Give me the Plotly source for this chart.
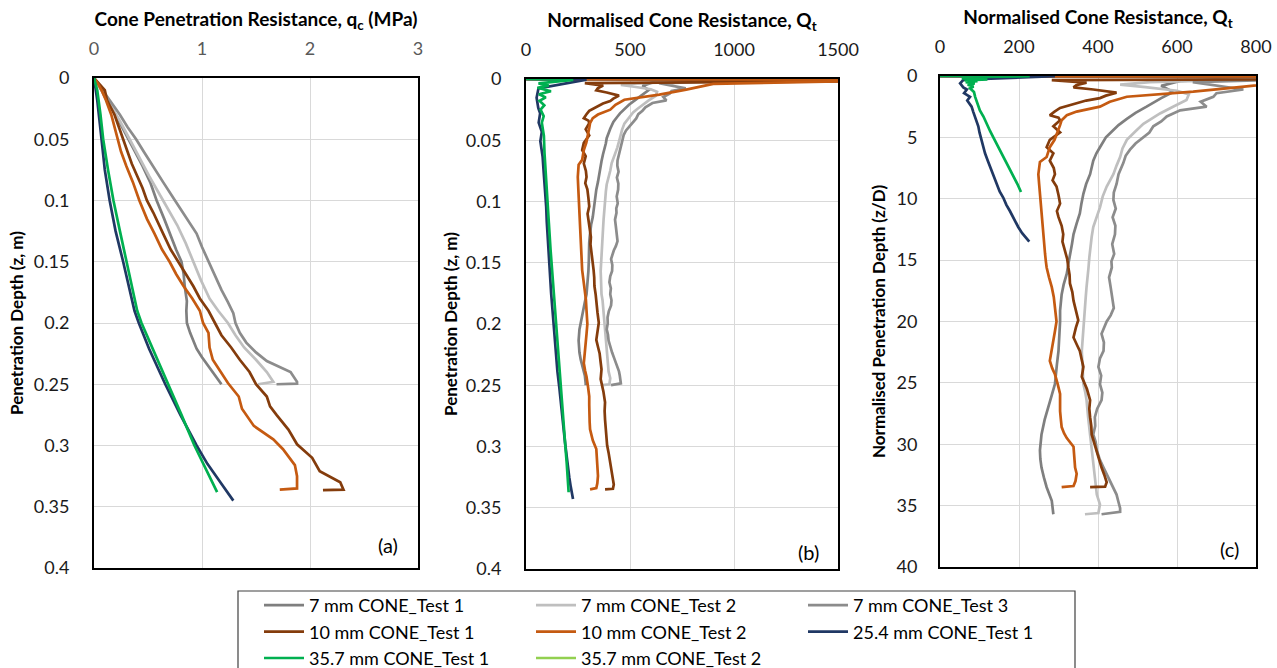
import plotly.graph_objects as go

# ---------------- data ----------------
NAMES = ["7 mm CONE_Test 1", "7 mm CONE_Test 2", "7 mm CONE_Test 3",
         "10 mm CONE_Test 1", "10 mm CONE_Test 2", "25.4 mm CONE_Test 1",
         "35.7 mm CONE_Test 1", "35.7 mm CONE_Test 2"]
COLORS = ["#7f7f7f", "#bfbfbf", "#8c8c8c", "#843c0c", "#c55a11", "#203864", "#00b050", "#92d050"]
DIAMETERS_M = [0.007, 0.007, 0.007, 0.010, 0.010, 0.0254, 0.0357, 0.0357]
LEGEND_OF = ["legend", "legend2", "legend3", "legend", "legend2", "legend3", "legend", "legend2"]

# Panel (a): depth z (m) and cone resistance qc (MPa)
qc_z_7_t1 = [0, 0.01, 0.018, 0.03, 0.04, 0.05, 0.06, 0.072, 0.085, 0.1, 0.115, 0.127, 0.14, 0.15, 0.16,
             0.17, 0.182, 0.19, 0.2, 0.208, 0.215, 0.221, 0.228, 0.235, 0.24, 0.246, 0.25]
qc_7_t1 = [0, 0.07, 0.115, 0.2, 0.26, 0.32, 0.38, 0.45, 0.52, 0.58, 0.65, 0.70, 0.76, 0.81, 0.83,
           0.84, 0.86, 0.855, 0.86, 0.89, 0.92, 0.95, 1.0, 1.06, 1.1, 1.15, 1.18]
qc_z_7_t2 = [0, 0.01, 0.02, 0.035, 0.05, 0.065, 0.08, 0.1, 0.12, 0.135, 0.15, 0.165, 0.18, 0.19, 0.2,
             0.21, 0.22, 0.23, 0.24, 0.248, 0.25]
qc_7_t2 = [0, 0.07, 0.14, 0.24, 0.33, 0.42, 0.51, 0.64, 0.77, 0.85, 0.92, 0.99, 1.07, 1.15, 1.24,
           1.31, 1.39, 1.50, 1.60, 1.66, 1.52]
qc_z_7_t3 = [0, 0.005, 0.01, 0.018, 0.03, 0.04, 0.05, 0.06, 0.072, 0.085, 0.1, 0.113, 0.127, 0.138,
             0.15, 0.162, 0.173, 0.183, 0.192, 0.2, 0.208, 0.216, 0.224, 0.231, 0.236, 0.24, 0.248,
             0.2495, 0.25]
qc_7_t3 = [0, 0.04, 0.08, 0.145, 0.24, 0.31, 0.39, 0.46, 0.55, 0.64, 0.75, 0.85, 0.95, 1.0,
           1.06, 1.12, 1.18, 1.24, 1.29, 1.31, 1.35, 1.41, 1.5, 1.60, 1.72, 1.82, 1.88, 1.88, 1.69]
qc_z_10_t1 = [0, 0.005, 0.01, 0.018, 0.03, 0.04, 0.05, 0.06, 0.07, 0.08, 0.09, 0.1, 0.11, 0.127, 0.14,
              0.15, 0.16, 0.17, 0.18, 0.19, 0.2, 0.21, 0.22, 0.23, 0.24, 0.25, 0.26, 0.268, 0.275,
              0.287, 0.299, 0.31, 0.321, 0.33, 0.336, 0.3365]
qc_10_t1 = [0, 0.05, 0.1, 0.12, 0.19, 0.23, 0.27, 0.31, 0.35, 0.40, 0.45, 0.49, 0.55, 0.64, 0.71,
            0.78, 0.85, 0.92, 0.98, 1.06, 1.12, 1.18, 1.27, 1.35, 1.44, 1.50, 1.60, 1.63, 1.69,
            1.80, 1.88, 2.02, 2.09, 2.28, 2.31, 2.12]
qc_z_10_t2 = [0, 0.005, 0.01, 0.018, 0.03, 0.04, 0.05, 0.06, 0.072, 0.085, 0.1, 0.115, 0.127, 0.14,
              0.15, 0.16, 0.17, 0.18, 0.19, 0.2, 0.208, 0.22, 0.23, 0.24, 0.249, 0.26, 0.27, 0.284,
              0.295, 0.303, 0.316, 0.325, 0.335, 0.336]
qc_10_t2 = [0, 0.04, 0.07, 0.11, 0.16, 0.19, 0.22, 0.25, 0.30, 0.36, 0.42, 0.49, 0.56, 0.63,
            0.70, 0.76, 0.83, 0.91, 0.98, 1.01, 1.06, 1.07, 1.10, 1.17, 1.24, 1.34, 1.37, 1.48,
            1.66, 1.75, 1.86, 1.88, 1.88, 1.72]
qc_z_25_t1 = [0, 0.01, 0.018, 0.05, 0.075, 0.1, 0.125, 0.15, 0.17, 0.181, 0.19, 0.2, 0.21, 0.221,
              0.25, 0.275, 0.3, 0.315, 0.33, 0.345]
qc_25_t1 = [0, 0.02, 0.03, 0.07, 0.1, 0.145, 0.2, 0.27, 0.32, 0.35, 0.375, 0.415, 0.46, 0.51,
            0.66, 0.80, 0.95, 1.05, 1.17, 1.29]
qc_z_35_t1 = [0, 0.01, 0.03, 0.05, 0.075, 0.1, 0.125, 0.15, 0.175, 0.19, 0.2, 0.21, 0.225, 0.25,
              0.275, 0.3, 0.32, 0.338]
qc_35_t1 = [0, 0.03, 0.06, 0.085, 0.13, 0.18, 0.24, 0.30, 0.36, 0.40, 0.44, 0.49, 0.56, 0.69,
            0.81, 0.93, 1.04, 1.14]
qc_z_35_t2 = [0]
qc_35_t2 = [0]

# Panels (b) and (c): normalised depth z/D and normalised cone resistance Qt
qt_zd_7_t1 = [0, 0.1, 0.4, 0.8, 1.3, 1.8, 2.5, 3.0, 3.5, 4.0, 4.4, 5.0, 5.8, 6.3, 6.9, 7.5, 8.0,
              8.8, 9.6, 10.4, 11.2, 12.0, 12.9, 13.7, 14.5, 15.3, 16.1, 17.0, 17.8, 18.5, 19.1,
              20.0, 21.2, 22.4, 23.5, 25.1, 26.0, 27.0, 28.0, 29.2, 30.5, 31.2, 31.9, 32.7, 33.5,
              34.6, 35.5, 35.7]
qt_7_t1 = [0, 900, 608, 560, 590, 560, 523, 495, 473, 452, 439, 420, 405, 396, 388, 384, 380,
           370, 363, 358, 354, 346, 338, 334, 329, 325, 321, 313, 308, 306, 304,
           304, 302, 300, 296, 291, 283, 274, 265, 257, 253, 254, 257, 263, 270,
           283, 287, 287]
qt_zd_7_t2 = [0, 0.1, 0.5, 0.7, 0.9, 1.2, 1.5, 1.96, 2.5, 3.05, 3.5, 3.9, 4.5, 5.2, 5.9, 6.6, 7.3,
              8.0, 9.0, 9.8, 10.7, 11.5, 12.3, 13.1, 14.0, 14.8, 15.6, 16.4, 17.2, 18.0, 18.9,
              20.0, 21.2, 22.4, 23.7, 25.1, 25.8, 26.4, 27.8, 29.2, 30.5, 31.9, 33.0, 34.1, 34.9,
              35.6, 35.7]
qt_7_t2 = [0, 1000, 532, 456, 520, 600, 630, 624, 590, 557, 535, 515, 495, 473, 462, 456, 447,
           439, 422, 412, 405, 396, 388, 384, 380, 378, 376, 373, 371, 369, 367,
           363, 361, 359, 361, 363, 368, 371, 375, 380, 384, 388, 392, 397, 405,
           401, 367]
qt_zd_7_t3 = [0, 0.1, 0.5, 0.8, 1.1, 1.4, 1.7, 2.1, 2.5, 2.8, 3.3, 3.7, 4.1, 4.6, 5.0, 5.5, 6.0,
              6.5, 7.1, 8.0, 8.8, 9.5, 10.1, 10.8, 11.5, 12.2, 12.9, 13.7, 14.5, 15.1, 15.6, 16.4,
              17.2, 18.0, 18.9, 19.5, 20.0, 21.0, 21.7, 22.4, 23.0, 23.7, 24.4, 25.1, 25.8, 26.4,
              27.1, 27.8, 28.5, 29.2, 29.8, 30.5, 31.2, 31.9, 32.7, 33.5, 34.1, 34.6, 35.2, 35.5,
              35.7]
qt_7_t3 = [0, 1100, 640, 700, 768, 700, 692, 660, 675, 608, 574, 560, 540, 530, 515, 495, 481,
           470, 464, 452, 447, 440, 439, 445, 437, 444, 443, 436, 441, 434, 435, 428,
           432, 436, 440, 432, 422, 409, 415, 414, 405, 401, 408, 405, 411, 409,
           398, 392, 393, 388, 394, 397, 404, 414, 426, 439, 447, 451, 456, 456,
           409]
qt_zd_10_t1 = [0, 0.1, 0.33, 0.54, 0.75, 0.93, 1.1, 1.36, 1.6, 1.8, 2.0, 2.2, 2.6, 2.9, 3.2, 3.4,
               3.6, 4.1, 4.6, 5.2, 5.8, 6.3, 6.9, 7.5, 8.0, 8.5, 9.0, 9.7, 10.4, 11.0, 11.5, 12.2,
               12.9, 13.5, 14.2, 14.9, 15.6, 16.2, 16.9, 17.6, 18.3, 19.1, 19.9, 20.5, 21.3, 22.0,
               22.4, 23.0, 23.7, 24.5, 25.5, 26.4, 27.1, 27.8, 28.5, 29.2, 29.9, 30.5, 31.2, 31.9,
               32.5, 33.1, 33.45, 33.5]
qt_10_t1 = [0, 2500, 283, 371, 345, 338, 388, 447, 420, 405, 370, 346, 304, 290, 278, 300,
            304, 287, 304, 278, 270, 287, 278, 288, 291, 285, 295, 300, 304, 296, 300, 308,
            312, 310, 316, 322, 325, 328, 329, 335, 338, 344, 350, 344, 338, 348,
            354, 358, 363, 359, 372, 380, 378, 380, 383, 384, 390, 397, 403, 409,
            416, 422, 418, 380]
qt_zd_10_t2 = [0, 0.1, 0.2, 0.4, 0.87, 1.28, 1.69, 2.1, 2.5, 2.9, 3.2, 3.6, 4.0, 4.7, 5.2, 5.8,
               6.6, 7.0, 8.0, 8.8, 9.6, 10.4, 11.2, 12.0, 12.9, 13.7, 14.5, 15.1, 15.6, 16.4, 17.2,
               18.0, 18.9, 20.0, 20.8, 21.6, 22.4, 23.2, 23.8, 24.3, 25.1, 25.9, 26.6, 27.3, 28.0,
               28.6, 29.1, 29.5, 30.2, 31.0, 31.9, 32.4, 33.0, 33.4, 33.5]
qt_10_t2 = [0, 3000, 1500, 900, 770, 641, 473, 430, 405, 346, 321, 308, 304, 295, 290, 278,
            270, 253, 249, 251, 253, 254, 257, 259, 262, 264, 266, 268, 270, 276, 283,
            288, 291, 295, 291, 287, 282, 278, 284, 291, 298, 304, 304, 304, 306,
            308, 314, 321, 338, 340, 342, 346, 343, 338, 308]
qt_zd_25_t1 = [0, 0.02, 0.3, 0.6, 0.93, 1.1, 1.4, 1.7, 2.0, 2.5, 2.9, 3.3, 3.7, 4.1, 4.6, 5.2,
               5.7, 6.3, 6.9, 7.4, 8.1, 8.8, 9.4, 9.9, 10.5, 11.0, 11.7, 12.3, 12.8, 13.1, 13.5]
qt_25_t1 = [0, 291, 60, 51, 59, 68, 61, 76, 69, 80, 84, 89, 92, 97, 100, 105,
            109, 114, 121, 127, 135, 143, 151, 160, 168, 177, 188, 198, 208, 215, 226]
qt_zd_35_t1 = [0, 0.02, 0.1, 0.15, 0.2, 0.28, 0.35, 0.42, 0.5, 0.6, 0.7, 0.85, 1.0, 1.3, 1.7,
               2.2, 2.8, 3.3, 3.9, 4.5, 5.0, 5.5, 6.0, 6.6, 7.1, 7.7, 8.2, 8.8, 9.45]
qt_35_t1 = [0, 227, 60, 110, 55, 120, 62, 95, 65, 88, 70, 85, 76, 86, 89,
            95, 101, 110, 118, 127, 135, 143, 152, 160, 169, 178, 186, 196, 205]
qt_zd_35_t2 = [0]
qt_35_t2 = [0]

QC_Z = [qc_z_7_t1, qc_z_7_t2, qc_z_7_t3, qc_z_10_t1, qc_z_10_t2, qc_z_25_t1, qc_z_35_t1, qc_z_35_t2]
QC = [qc_7_t1, qc_7_t2, qc_7_t3, qc_10_t1, qc_10_t2, qc_25_t1, qc_35_t1, qc_35_t2]
QT_ZD = [qt_zd_7_t1, qt_zd_7_t2, qt_zd_7_t3, qt_zd_10_t1, qt_zd_10_t2, qt_zd_25_t1, qt_zd_35_t1, qt_zd_35_t2]
QT = [qt_7_t1, qt_7_t2, qt_7_t3, qt_10_t1, qt_10_t2, qt_25_t1, qt_35_t1, qt_35_t2]

DEPTH_TICKS = [0, 0.05, 0.1, 0.15, 0.2, 0.25, 0.3, 0.35, 0.4]
DEPTH_TICKTEXT = ["0", "0.05", "0.1", "0.15", "0.2", "0.25", "0.3", "0.35", "0.4"]
ZD_TICKS = [0, 5, 10, 15, 20, 25, 30, 35, 40]
QC_TICKS = [0, 1, 2, 3]
QT_B_TICKS = [0, 500, 1000, 1500]
QT_C_TICKS = [0, 200, 400, 600, 800]

# ---------------- figure ----------------
W, H = 1277, 668
FONT = "Lato"
fig = go.Figure()

for i, name in enumerate(NAMES):
    line = dict(color=COLORS[i], width=2.7)
    D = DIAMETERS_M[i]
    fig.add_trace(go.Scatter(x=QC[i], y=QC_Z[i], mode="lines", name=name, line=line,
                             legendgroup=name, legend=LEGEND_OF[i], showlegend=True,
                             xaxis="x", yaxis="y"))
    fig.add_trace(go.Scatter(x=QT[i], y=[v * D for v in QT_ZD[i]], mode="lines", name=name,
                             line=line, legendgroup=name, showlegend=False,
                             xaxis="x2", yaxis="y2"))
    fig.add_trace(go.Scatter(x=QT[i], y=QT_ZD[i], mode="lines", name=name, line=line,
                             legendgroup=name, showlegend=False, xaxis="x3", yaxis="y3"))


def px_x(p):
    return p / W


def px_y(p):
    return 1 - p / H


common_axis = dict(showline=True, mirror=True, linecolor="black", linewidth=2,
                   showgrid=True, gridcolor="#d9d9d9", gridwidth=1, zeroline=False,
                   ticks="", fixedrange=True)
xtitle_font = dict(family=FONT, size=19, color="black", weight="bold")
ytitle_font = dict(family=FONT, size=17, color="black", weight="bold")
tick_font = dict(family=FONT, size=18, color="#1a1a1a")
legend_common = dict(yanchor="top", xanchor="left", orientation="v",
                     font=dict(family=FONT, size=18, color="black"), bgcolor="rgba(0,0,0,0)",
                     itemwidth=40, tracegroupgap=0)
panel_font = dict(family=FONT, size=20, color="black")

fig.update_layout(
    width=W, height=H, autosize=False,
    margin=dict(l=0, r=0, t=0, b=0, autoexpand=False),
    paper_bgcolor="white", plot_bgcolor="white",
    font=dict(family=FONT, size=18, color="black"),
    xaxis=dict(domain=[px_x(94), px_x(418)], range=[0, 3], side="top", anchor="y",
               tickvals=QC_TICKS, tickfont=dict(family=FONT, size=18, color="#595959"),
               ticklabelstandoff=14,
               title=dict(text="Cone Penetration Resistance, q<sub>c</sub> (MPa)", font=xtitle_font,
                          standoff=5),
               **common_axis),
    yaxis=dict(domain=[px_y(568), px_y(78)], range=[0.4, 0], anchor="x",
               tickvals=DEPTH_TICKS, ticktext=DEPTH_TICKTEXT, tickfont=tick_font,
               ticklabelstandoff=19,
               title=dict(text="Penetration Depth (z, m)", font=ytitle_font, standoff=6),
               **common_axis),
    xaxis2=dict(domain=[px_x(526), px_x(838)], range=[0, 1500], side="top", anchor="y2",
                tickvals=QT_B_TICKS, tickfont=tick_font, ticklabelstandoff=14,
                title=dict(text="Normalised Cone Resistance, Q<sub>t</sub>", font=xtitle_font,
                           standoff=5),
                **common_axis),
    yaxis2=dict(domain=[px_y(569), px_y(79)], range=[0.4, 0], anchor="x2",
                tickvals=DEPTH_TICKS, ticktext=DEPTH_TICKTEXT, tickfont=tick_font,
                ticklabelstandoff=19,
                title=dict(text="Penetration Depth (z, m)", font=ytitle_font, standoff=4),
                **common_axis),
    xaxis3=dict(domain=[px_x(940), px_x(1256)], range=[0, 800], side="top", anchor="y3",
                tickvals=QT_C_TICKS, tickfont=tick_font, ticklabelstandoff=14,
                title=dict(text="Normalised Cone Resistance, Q<sub>t</sub>", font=xtitle_font,
                           standoff=5),
                **common_axis),
    yaxis3=dict(domain=[px_y(567), px_y(76)], range=[40, 0], anchor="x3",
                tickvals=ZD_TICKS, tickfont=tick_font, ticklabelstandoff=17,
                title=dict(text="Normalised Penetration Depth (z/D)", font=ytitle_font, standoff=7),
                **common_axis),
    legend=dict(x=px_x(259), y=px_y(587), **legend_common),
    legend2=dict(x=px_x(531), y=px_y(587), **legend_common),
    legend3=dict(x=px_x(803), y=px_y(587), **legend_common),
    shapes=[dict(type="rect", xref="paper", yref="paper", x0=px_x(238), x1=px_x(1075),
                 y0=px_y(690), y1=px_y(591), line=dict(color="#404040", width=1.2),
                 fillcolor="rgba(0,0,0,0)", layer="above")],
    annotations=[
        dict(text="(a)", xref="x domain", yref="y domain", x=0.907, y=0.047, showarrow=False,
             xanchor="center", yanchor="middle", font=panel_font),
        dict(text="(b)", xref="x2 domain", yref="y2 domain", x=0.907, y=0.035, showarrow=False,
             xanchor="center", yanchor="middle", font=panel_font),
        dict(text="(c)", xref="x3 domain", yref="y3 domain", x=0.915, y=0.037, showarrow=False,
             xanchor="center", yanchor="middle", font=panel_font),
    ],
    showlegend=True,
)

fig.write_html("out.html")
